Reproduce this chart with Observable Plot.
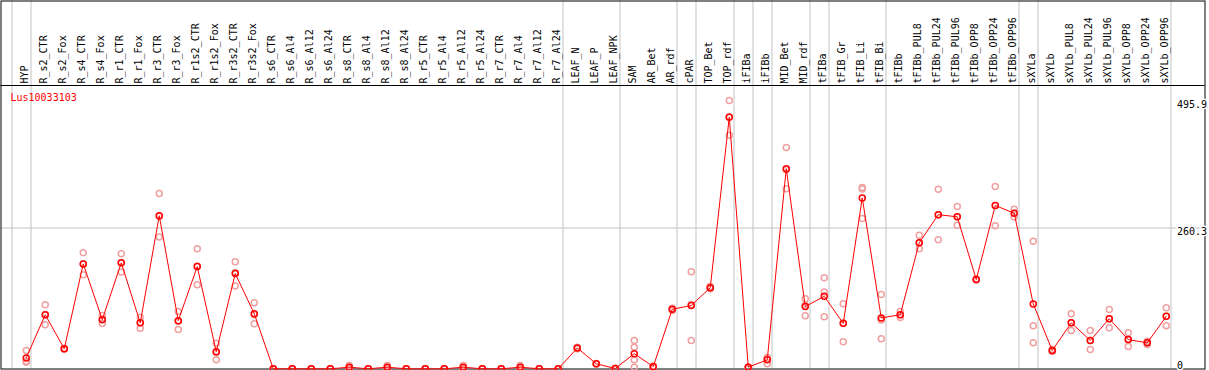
<!DOCTYPE html>
<html><head><meta charset="utf-8">
<script src="https://cdn.jsdelivr.net/npm/d3@7"></script>
<script src="https://cdn.jsdelivr.net/npm/@observablehq/plot@0.6"></script>
<style>html,body{margin:0;padding:0;background:#fff;}</style>
</head><body><div id="chart"></div>
<script>
const geneName = "Lus10033103";
const samples = ["HYP","R_s2_CTR","R_s2_Fox","R_s4_CTR","R_s4_Fox","R_r1_CTR","R_r1_Fox","R_r3_CTR","R_r3_Fox","R_r1s2_CTR","R_r1s2_Fox","R_r3s2_CTR","R_r3s2_Fox","R_s6_CTR","R_s6_Al4","R_s6_Al12","R_s6_Al24","R_s8_CTR","R_s8_Al4","R_s8_Al12","R_s8_Al24","R_r5_CTR","R_r5_Al4","R_r5_Al12","R_r5_Al24","R_r7_CTR","R_r7_Al4","R_r7_Al12","R_r7_Al24","LEAF_N","LEAF_P","LEAF_NPK","SAM","AR_Bet","AR_rdf","cPAR","TOP_Bet","TOP_rdf","iFIBa","iFIBb","MID_Bet","MID_rdf","tFIBa","tFIB_Gr","tFIB_Li","tFIB_Bi","tFIBb","tFIBb_PUL8","tFIBb_PUL24","tFIBb_PUL96","tFIBb_OPP8","tFIBb_OPP24","tFIBb_OPP96","sXYLa","sXYLb","sXYLb_PUL8","sXYLb_PUL24","sXYLb_PUL96","sXYLb_OPP8","sXYLb_OPP24","sXYLb_OPP96"];
const means = [20,100,37,194,91,196,85,283,89,189,31.5,176,102,0,0,0,0,3,0,3,0,0,0,3,0,0,3,0,0,38.5,9.3,0.5,28,4,110,117,150,465,3,16.7,370,115,134,84,316,94,100,233,285,281,165,302,287.5,120,34,85,52.4,92.6,54,48,97];
const replicates = [
  [34,14,12],[118.5,100,81.5],[38,37,36],[214.7,194,174],[98.6,90,83.9],[212.9,196,178.8],[95.5,85,75.2],[324,282,243.6],[106,88,72.7],[222,190,155.5],[47.4,30,16.7],[198,178,153],[122,100,83.3],
  [0,0,0],[0,0,0],[0,0,0],[0,0,0],[6,3,0],[0,0,0],[6,3,0],[0,0,0],[0,0,0],[0,0,0],[6,3,0],[0,0,0],[0,0,0],[6,3,0],[0,0,0],[0,0,0],
  [40,38.5,37],[10,9,9],[1,0,0],[52.4,40,16.7,3],[5,4,3],[112,110,108],[179.6,119,52.4],[152,150,148],[495.9,466,432],[3,3,2],[19.6,21,9.3],
  [409,368,333],[129.6,118,98.1],[168.5,141.8,96.3],[120.3,84,50],[335,332.5,277.7],[137.5,90,55.5],[106,100,95],[246.8,233,222],[331.9,285,238.8],[299.9,281,265.3],[166,165,164],[336.9,302,264.7],[294.9,287.5,280.6],
  [235.7,79.6,48.1],[36,34,32],[101.8,85,70.9],[70.9,52.4,35.7],[109.8,92.6,75.9],[66.6,54,41.3],[51.1,48,45],[112.9,97,79.6]
];
const groupEnds = [-1,0,28,31,34,35,37,38,39,41,42,45,52,53,60];
const yTicks = [0,260.3,495.9];
const gridY = [260.3];

const meanData = samples.map((s,i)=>({i, sample:s, value:means[i]}));
const repData = replicates.flatMap((r,i)=>r.map(v=>({i, value:v})));

const chart = Plot.plot({
  width:1209, height:370,
  marginLeft:0.5, marginTop:0.5, marginRight:4.5, marginBottom:1.5,
  style:{fontFamily:"'DejaVu Sans Mono', monospace", fontSize:"10px", background:"white", color:"black"},
  x:{domain:[0,60], range:[25.75,1165.75], axis:null},
  y:{domain:[0,495.9], range:[368.3,100.1], axis:null},
  marks:[
    Plot.ruleX(groupEnds, {x:d=>d+0.25, stroke:"#c3c3c3", strokeWidth:1}),
    Plot.ruleY(gridY, {stroke:"#c3c3c3", strokeWidth:1}),
    Plot.frame({stroke:"black"}),
    Plot.text(samples, {x:(d,i)=>i, text:d=>d, frameAnchor:"top", dy:82.5, dx:-1, rotate:-90, textAnchor:"start", lineAnchor:"middle", fill:"black"}),
    Plot.text(yTicks.filter(v=>v>0), {y:d=>d, text:d=>d.toFixed(1), frameAnchor:"right", dx:-28, textAnchor:"start", lineAnchor:"top", fill:"black", stroke:"white", strokeWidth:3}),
    Plot.text(yTicks.filter(v=>v===0), {y:d=>d, text:d=>String(d), frameAnchor:"right", dx:-28, textAnchor:"start", lineAnchor:"bottom", fill:"black", stroke:"white", strokeWidth:3}),
    Plot.dot(repData, {x:"i", y:"value", r:3, stroke:"#f0a0a0", strokeWidth:1.5, fill:"none"}),
    Plot.line(meanData, {x:"i", y:"value", stroke:"red", strokeWidth:1}),
    Plot.dot(meanData, {x:"i", y:"value", r:3, stroke:"red", strokeWidth:1.5, fill:"none"}),
    Plot.text([geneName], {text:d=>d, frameAnchor:"top-left", dx:9.5, dy:96.5, lineAnchor:"middle", textAnchor:"start", fill:"red"})
  ]
});
d3.select(chart).append("line")
  .attr("x1",0.5).attr("x2",1204.5).attr("y1",85.5).attr("y2",85.5)
  .attr("stroke","black").attr("stroke-width",1);
document.getElementById("chart").appendChild(chart);
</script>
</body></html>
